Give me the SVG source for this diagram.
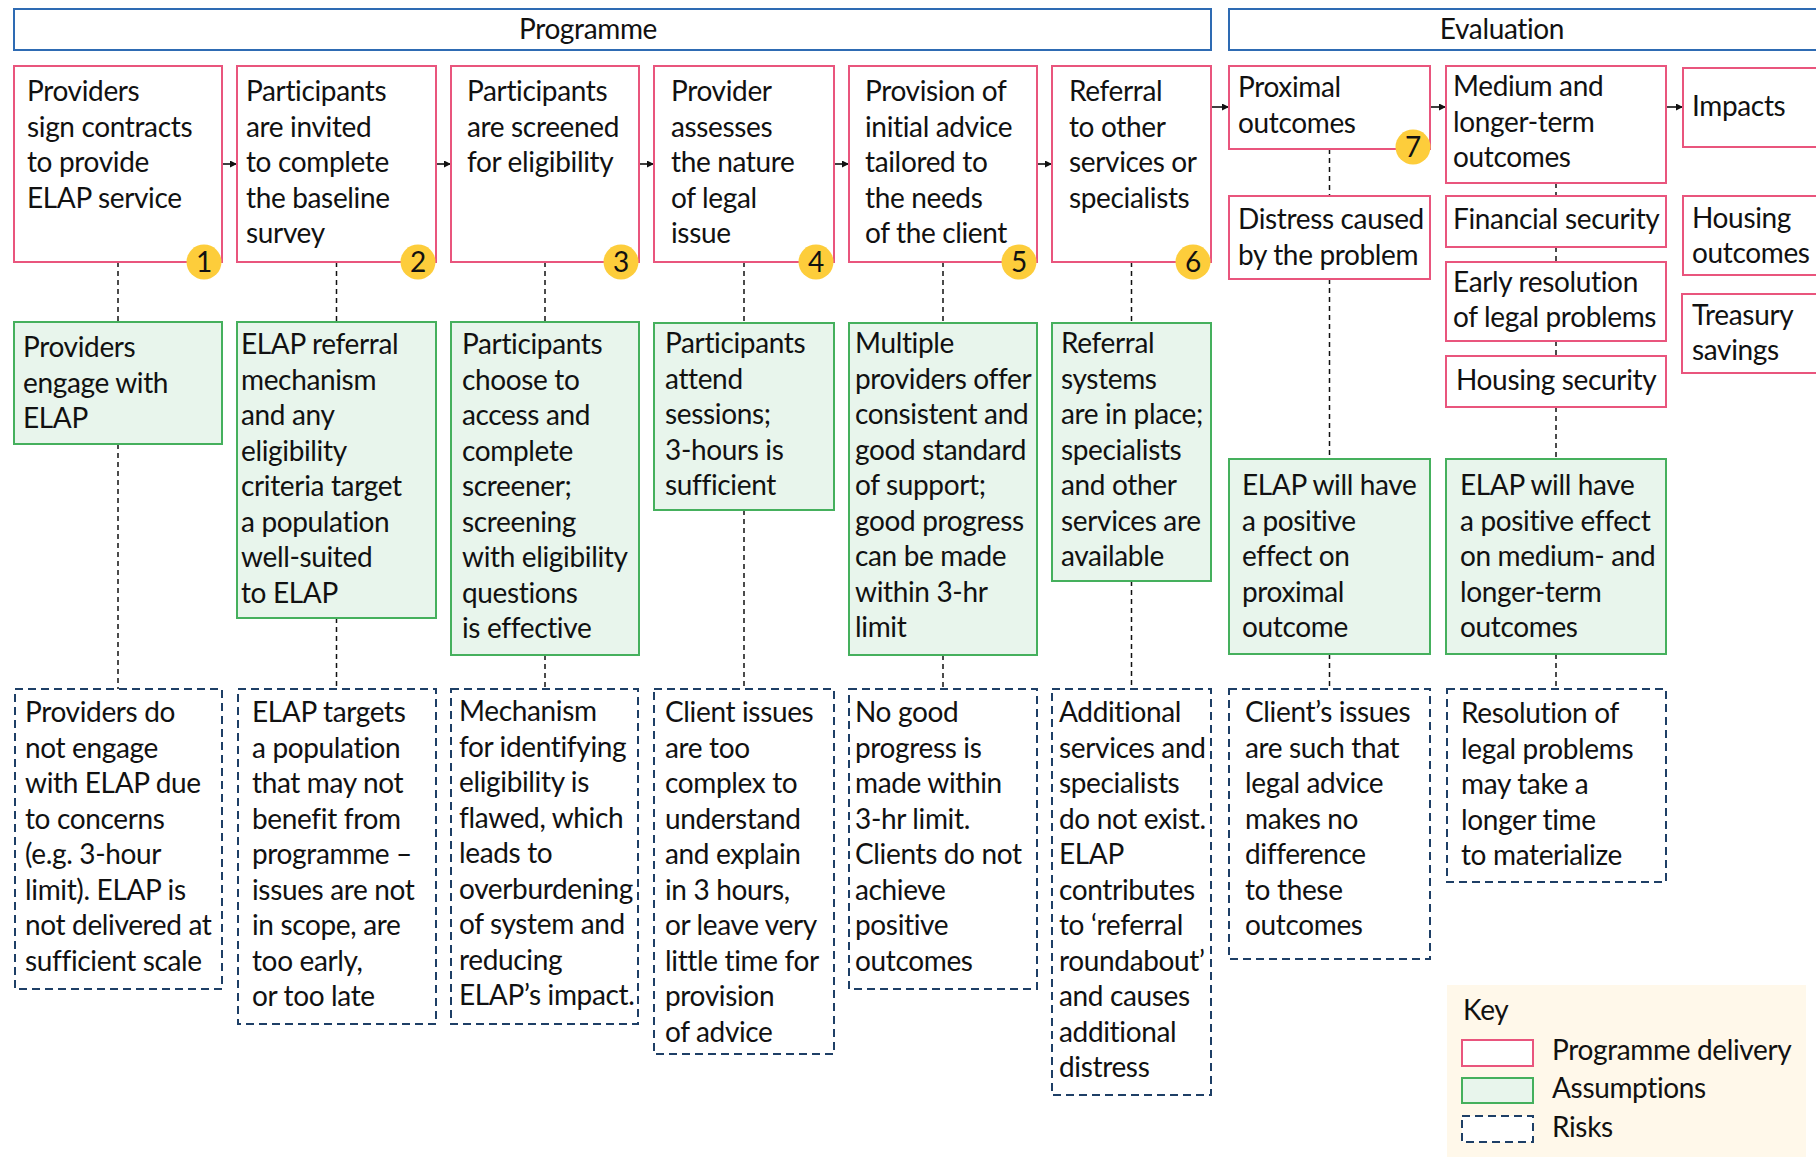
<svg xmlns="http://www.w3.org/2000/svg" width="1816" height="1157" viewBox="0 0 1816 1157">
<style>
text{font-family:Lato,"Open Sans","Liberation Sans",sans-serif;font-size:28px;fill:#111;letter-spacing:-0.35px}
.hdr{fill:#fff;stroke:#2e6bb3;stroke-width:2}
.prog{fill:#fff;stroke:#e9557d;stroke-width:2}
.assm{fill:#e8f5ec;stroke:#45b05d;stroke-width:2}
.risk{fill:#fff;stroke:#1e3f66;stroke-width:2;stroke-dasharray:8 5}
.conn{stroke:#111;stroke-width:1.5;stroke-dasharray:5 4;fill:none}
.arr{stroke:#111;stroke-width:1.6;fill:none}
.badge{fill:#fdcd3b}
.num{text-anchor:middle;font-size:28px}
.c{text-anchor:middle}
</style>
<defs>
<marker id="ah" markerUnits="userSpaceOnUse" markerWidth="8" markerHeight="8" refX="7" refY="3.5" orient="auto">
<path d="M0,0 L7,3.5 L0,7 z" fill="#111"/>
</marker>
</defs>
<rect width="1816" height="1157" fill="#fff"/>

<g id="header-programme">
<rect class="hdr" x="14" y="9" width="1197" height="41"/>
<text class="c" x="588" y="39">Programme</text>
</g>
<g id="header-evaluation">
<rect class="hdr" x="1229" y="9" width="620" height="41"/>
<text class="c" x="1502" y="39">Evaluation</text>
</g>

<g id="connectors">
<path class="conn" d="M118,262V322M118,444V689M336.5,262V322M336.5,618V689M545,262V322M545,655V689M744,262V323M744,510V689M943,262V323M943,655V689M1131.5,262V323M1131.5,581V689M1329.5,149V196M1329.5,279V459M1329.5,654V689M1556,183V196M1556,247V262M1556,341V356M1556,407V459M1556,654V689"/>
<path class="arr" marker-end="url(#ah)" d="M222,164H237"/>
<path class="arr" marker-end="url(#ah)" d="M436,164H451"/>
<path class="arr" marker-end="url(#ah)" d="M639,164H654"/>
<path class="arr" marker-end="url(#ah)" d="M834,164H849"/>
<path class="arr" marker-end="url(#ah)" d="M1037,164H1052"/>
<path class="arr" marker-end="url(#ah)" d="M1211,107H1229"/>
<path class="arr" marker-end="url(#ah)" d="M1430,107H1446"/>
<path class="arr" marker-end="url(#ah)" d="M1666,107H1683"/>
</g>

<g id="p1">
<rect class="prog" x="14" y="66" width="208" height="196"/>
<text x="27" y="101"><tspan x="27">Providers</tspan><tspan x="27" dy="35.5">sign contracts</tspan><tspan x="27" dy="35.5">to provide</tspan><tspan x="27" dy="35.5">ELAP service</tspan></text>
<circle class="badge" cx="204" cy="262" r="17.5"/><text class="num" x="204" y="272">1</text>
</g>
<g id="p2">
<rect class="prog" x="237" y="66" width="199" height="196"/>
<text x="246" y="101"><tspan x="246">Participants</tspan><tspan x="246" dy="35.5">are invited</tspan><tspan x="246" dy="35.5">to complete</tspan><tspan x="246" dy="35.5">the baseline</tspan><tspan x="246" dy="35.5">survey</tspan></text>
<circle class="badge" cx="418" cy="262" r="17.5"/><text class="num" x="418" y="272">2</text>
</g>
<g id="p3">
<rect class="prog" x="451" y="66" width="188" height="196"/>
<text x="467" y="101"><tspan x="467">Participants</tspan><tspan x="467" dy="35.5">are screened</tspan><tspan x="467" dy="35.5">for eligibility</tspan></text>
<circle class="badge" cx="621" cy="262" r="17.5"/><text class="num" x="621" y="272">3</text>
</g>
<g id="p4">
<rect class="prog" x="654" y="66" width="180" height="196"/>
<text x="671" y="101"><tspan x="671">Provider</tspan><tspan x="671" dy="35.5">assesses</tspan><tspan x="671" dy="35.5">the nature</tspan><tspan x="671" dy="35.5">of legal</tspan><tspan x="671" dy="35.5">issue</tspan></text>
<circle class="badge" cx="816" cy="262" r="17.5"/><text class="num" x="816" y="272">4</text>
</g>
<g id="p5">
<rect class="prog" x="849" y="66" width="188" height="196"/>
<text x="865" y="101"><tspan x="865">Provision of</tspan><tspan x="865" dy="35.5">initial advice</tspan><tspan x="865" dy="35.5">tailored to</tspan><tspan x="865" dy="35.5">the needs</tspan><tspan x="865" dy="35.5">of the client</tspan></text>
<circle class="badge" cx="1019" cy="262" r="17.5"/><text class="num" x="1019" y="272">5</text>
</g>
<g id="p6">
<rect class="prog" x="1052" y="66" width="159" height="196"/>
<text x="1069" y="101"><tspan x="1069">Referral</tspan><tspan x="1069" dy="35.5">to other</tspan><tspan x="1069" dy="35.5">services or</tspan><tspan x="1069" dy="35.5">specialists</tspan></text>
<circle class="badge" cx="1193" cy="262" r="17.5"/><text class="num" x="1193" y="272">6</text>
</g>

<g id="e-proximal">
<rect class="prog" x="1229" y="66" width="201" height="83"/>
<text x="1238" y="97"><tspan x="1238">Proximal</tspan><tspan x="1238" dy="35.5">outcomes</tspan></text>
<circle class="badge" cx="1413" cy="147" r="17.5"/><text class="num" x="1413" y="157">7</text>
</g>
<g id="e-medium">
<rect class="prog" x="1446" y="66" width="220" height="117"/>
<text x="1453" y="96"><tspan x="1453">Medium and</tspan><tspan x="1453" dy="35.5">longer-term</tspan><tspan x="1453" dy="35.5">outcomes</tspan></text>
</g>
<g id="e-impacts">
<rect class="prog" x="1683" y="68" width="160" height="79"/>
<text x="1692" y="116">Impacts</text>
</g>
<g id="e-distress">
<rect class="prog" x="1229" y="196" width="201" height="83"/>
<text x="1238" y="229"><tspan x="1238">Distress caused</tspan><tspan x="1238" dy="35.5">by the problem</tspan></text>
</g>
<g id="e-financial">
<rect class="prog" x="1446" y="196" width="220" height="51"/>
<text x="1453" y="229">Financial security</text>
</g>
<g id="e-early">
<rect class="prog" x="1446" y="262" width="220" height="79"/>
<text x="1453" y="292"><tspan x="1453">Early resolution</tspan><tspan x="1453" dy="35">of legal problems</tspan></text>
</g>
<g id="e-housing-security">
<rect class="prog" x="1446" y="356" width="220" height="51"/>
<text x="1456" y="390">Housing security</text>
</g>
<g id="e-housing-outcomes">
<rect class="prog" x="1683" y="196" width="160" height="79"/>
<text x="1692" y="228"><tspan x="1692">Housing</tspan><tspan x="1692" dy="34.5">outcomes</tspan></text>
</g>
<g id="e-treasury">
<rect class="prog" x="1682" y="294" width="160" height="79"/>
<text x="1692" y="325"><tspan x="1692">Treasury</tspan><tspan x="1692" dy="34.5">savings</tspan></text>
</g>

<g id="a1">
<rect class="assm" x="14" y="322" width="208" height="122"/>
<text x="23" y="357"><tspan x="23">Providers</tspan><tspan x="23" dy="35.5">engage with</tspan><tspan x="23" dy="35.5">ELAP</tspan></text>
</g>
<g id="a2">
<rect class="assm" x="237" y="322" width="199" height="296"/>
<text x="241" y="354"><tspan x="241">ELAP referral</tspan><tspan x="241" dy="35.5">mechanism</tspan><tspan x="241" dy="35.5">and any</tspan><tspan x="241" dy="35.5">eligibility</tspan><tspan x="241" dy="35.5">criteria target</tspan><tspan x="241" dy="35.5">a population</tspan><tspan x="241" dy="35.5">well-suited</tspan><tspan x="241" dy="35.5">to ELAP</tspan></text>
</g>
<g id="a3">
<rect class="assm" x="451" y="322" width="188" height="333"/>
<text x="462" y="354"><tspan x="462">Participants</tspan><tspan x="462" dy="35.5">choose to</tspan><tspan x="462" dy="35.5">access and</tspan><tspan x="462" dy="35.5">complete</tspan><tspan x="462" dy="35.5">screener;</tspan><tspan x="462" dy="35.5">screening</tspan><tspan x="462" dy="35.5">with eligibility</tspan><tspan x="462" dy="35.5">questions</tspan><tspan x="462" dy="35.5">is effective</tspan></text>
</g>
<g id="a4">
<rect class="assm" x="654" y="323" width="180" height="187"/>
<text x="665" y="353"><tspan x="665">Participants</tspan><tspan x="665" dy="35.5">attend</tspan><tspan x="665" dy="35.5">sessions;</tspan><tspan x="665" dy="35.5">3-hours is</tspan><tspan x="665" dy="35.5">sufficient</tspan></text>
</g>
<g id="a5">
<rect class="assm" x="849" y="323" width="188" height="332"/>
<text x="855" y="353"><tspan x="855">Multiple</tspan><tspan x="855" dy="35.5">providers offer</tspan><tspan x="855" dy="35.5">consistent and</tspan><tspan x="855" dy="35.5">good standard</tspan><tspan x="855" dy="35.5">of support;</tspan><tspan x="855" dy="35.5">good progress</tspan><tspan x="855" dy="35.5">can be made</tspan><tspan x="855" dy="35.5">within 3-hr</tspan><tspan x="855" dy="35.5">limit</tspan></text>
</g>
<g id="a6">
<rect class="assm" x="1052" y="323" width="159" height="258"/>
<text x="1061" y="353"><tspan x="1061">Referral</tspan><tspan x="1061" dy="35.5">systems</tspan><tspan x="1061" dy="35.5">are in place;</tspan><tspan x="1061" dy="35.5">specialists</tspan><tspan x="1061" dy="35.5">and other</tspan><tspan x="1061" dy="35.5">services are</tspan><tspan x="1061" dy="35.5">available</tspan></text>
</g>
<g id="a7">
<rect class="assm" x="1229" y="459" width="201" height="195"/>
<text x="1242" y="495"><tspan x="1242">ELAP will have</tspan><tspan x="1242" dy="35.5">a positive</tspan><tspan x="1242" dy="35.5">effect on</tspan><tspan x="1242" dy="35.5">proximal</tspan><tspan x="1242" dy="35.5">outcome</tspan></text>
</g>
<g id="a8">
<rect class="assm" x="1446" y="459" width="220" height="195"/>
<text x="1460" y="495"><tspan x="1460">ELAP will have</tspan><tspan x="1460" dy="35.5">a positive effect</tspan><tspan x="1460" dy="35.5">on medium- and</tspan><tspan x="1460" dy="35.5">longer-term</tspan><tspan x="1460" dy="35.5">outcomes</tspan></text>
</g>

<g id="r1">
<rect class="risk" x="15" y="689" width="207" height="300"/>
<text x="25" y="722"><tspan x="25">Providers do</tspan><tspan x="25" dy="35.5">not engage</tspan><tspan x="25" dy="35.5">with ELAP due</tspan><tspan x="25" dy="35.5">to concerns</tspan><tspan x="25" dy="35.5">(e.g. 3-hour</tspan><tspan x="25" dy="35.5">limit). ELAP is</tspan><tspan x="25" dy="35.5">not delivered at</tspan><tspan x="25" dy="35.5">sufficient scale</tspan></text>
</g>
<g id="r2">
<rect class="risk" x="238" y="689" width="198" height="335"/>
<text x="252" y="722"><tspan x="252">ELAP targets</tspan><tspan x="252" dy="35.5">a population</tspan><tspan x="252" dy="35.5">that may not</tspan><tspan x="252" dy="35.5">benefit from</tspan><tspan x="252" dy="35.5">programme –</tspan><tspan x="252" dy="35.5">issues are not</tspan><tspan x="252" dy="35.5">in scope, are</tspan><tspan x="252" dy="35.5">too early,</tspan><tspan x="252" dy="35.5">or too late</tspan></text>
</g>
<g id="r3">
<rect class="risk" x="451" y="689" width="187" height="335"/>
<text x="459" y="721"><tspan x="459">Mechanism</tspan><tspan x="459" dy="35.5">for identifying</tspan><tspan x="459" dy="35.5">eligibility is</tspan><tspan x="459" dy="35.5">flawed, which</tspan><tspan x="459" dy="35.5">leads to</tspan><tspan x="459" dy="35.5">overburdening</tspan><tspan x="459" dy="35.5">of system and</tspan><tspan x="459" dy="35.5">reducing</tspan><tspan x="459" dy="35.5">ELAP’s impact.</tspan></text>
</g>
<g id="r4">
<rect class="risk" x="654" y="689" width="180" height="365"/>
<text x="665" y="722"><tspan x="665">Client issues</tspan><tspan x="665" dy="35.5">are too</tspan><tspan x="665" dy="35.5">complex to</tspan><tspan x="665" dy="35.5">understand</tspan><tspan x="665" dy="35.5">and explain</tspan><tspan x="665" dy="35.5">in 3 hours,</tspan><tspan x="665" dy="35.5">or leave very</tspan><tspan x="665" dy="35.5">little time for</tspan><tspan x="665" dy="35.5">provision</tspan><tspan x="665" dy="35.5">of advice</tspan></text>
</g>
<g id="r5">
<rect class="risk" x="849" y="689" width="188" height="300"/>
<text x="855" y="722"><tspan x="855">No good</tspan><tspan x="855" dy="35.5">progress is</tspan><tspan x="855" dy="35.5">made within</tspan><tspan x="855" dy="35.5">3-hr limit.</tspan><tspan x="855" dy="35.5">Clients do not</tspan><tspan x="855" dy="35.5">achieve</tspan><tspan x="855" dy="35.5">positive</tspan><tspan x="855" dy="35.5">outcomes</tspan></text>
</g>
<g id="r6">
<rect class="risk" x="1052" y="689" width="159" height="406"/>
<text x="1059" y="722"><tspan x="1059">Additional</tspan><tspan x="1059" dy="35.5">services and</tspan><tspan x="1059" dy="35.5">specialists</tspan><tspan x="1059" dy="35.5">do not exist.</tspan><tspan x="1059" dy="35.5">ELAP</tspan><tspan x="1059" dy="35.5">contributes</tspan><tspan x="1059" dy="35.5">to ‘referral</tspan><tspan x="1059" dy="35.5">roundabout’</tspan><tspan x="1059" dy="35.5">and causes</tspan><tspan x="1059" dy="35.5">additional</tspan><tspan x="1059" dy="35.5">distress</tspan></text>
</g>
<g id="r7">
<rect class="risk" x="1229" y="689" width="201" height="270"/>
<text x="1245" y="722"><tspan x="1245">Client’s issues</tspan><tspan x="1245" dy="35.5">are such that</tspan><tspan x="1245" dy="35.5">legal advice</tspan><tspan x="1245" dy="35.5">makes no</tspan><tspan x="1245" dy="35.5">difference</tspan><tspan x="1245" dy="35.5">to these</tspan><tspan x="1245" dy="35.5">outcomes</tspan></text>
</g>
<g id="r8">
<rect class="risk" x="1447" y="689" width="219" height="193"/>
<text x="1461" y="723"><tspan x="1461">Resolution of</tspan><tspan x="1461" dy="35.5">legal problems</tspan><tspan x="1461" dy="35.5">may take a</tspan><tspan x="1461" dy="35.5">longer time</tspan><tspan x="1461" dy="35.5">to materialize</tspan></text>
</g>

<g id="key">
<rect x="1447" y="985" width="359" height="172" fill="#fff8ea"/>
<text x="1463" y="1020">Key</text>
<rect class="prog" x="1462" y="1040" width="71" height="26"/>
<rect class="assm" x="1462" y="1078" width="71" height="25"/>
<rect class="risk" x="1462" y="1116" width="71" height="26"/>
<text x="1552" y="1060">Programme delivery</text>
<text x="1552" y="1098">Assumptions</text>
<text x="1552" y="1137">Risks</text>
</g>
</svg>
